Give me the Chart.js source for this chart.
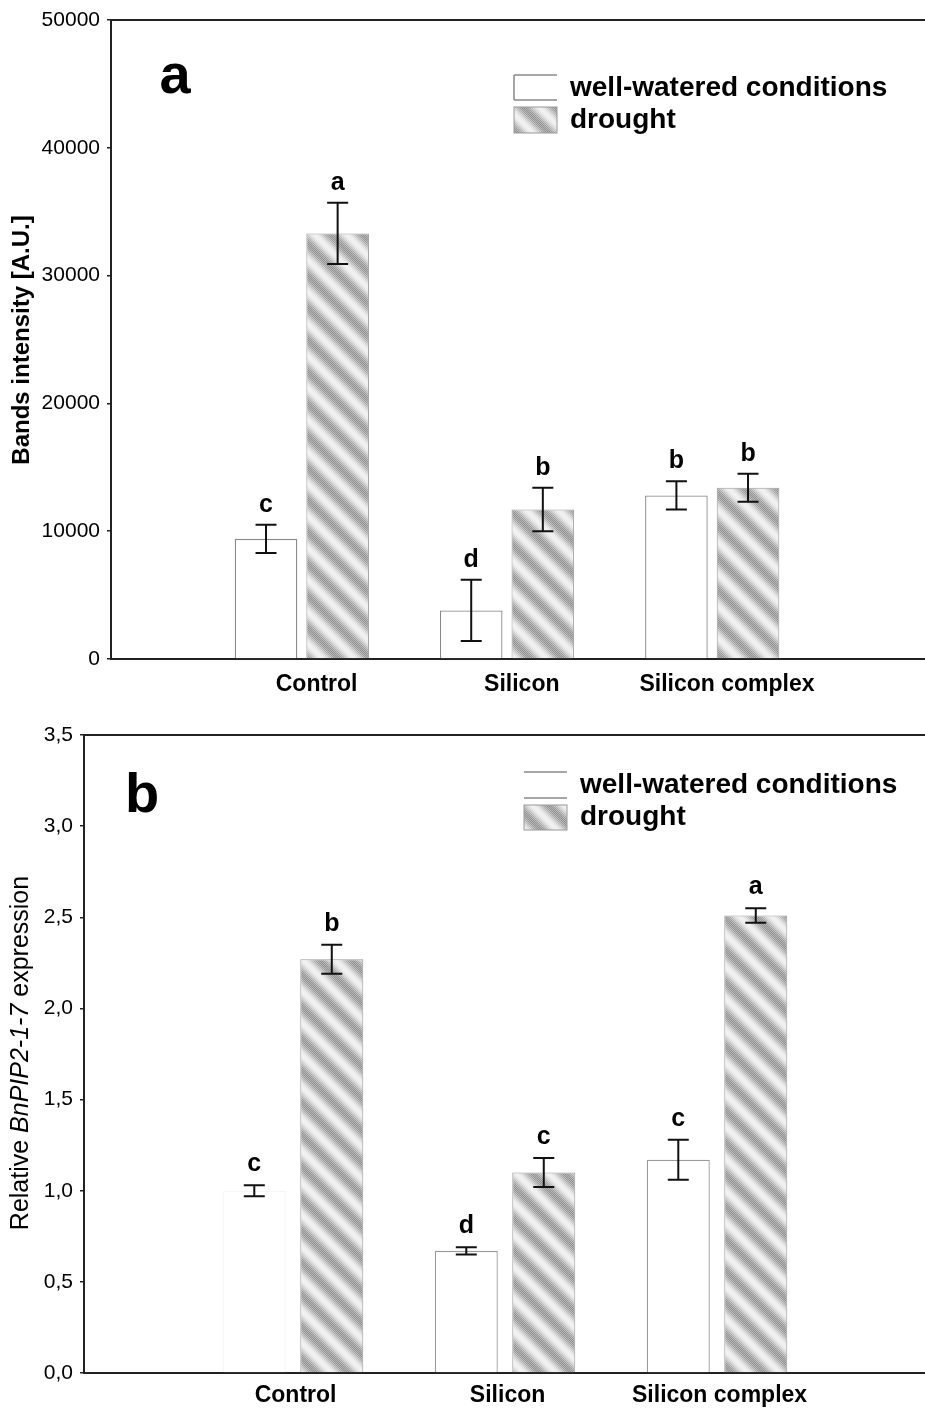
<!DOCTYPE html>
<html>
<head>
<meta charset="utf-8">
<script src="https://cdn.jsdelivr.net/npm/chart.js@4.4.1/dist/chart.umd.min.js"></script>
<style>
  body { margin: 0; background: #fff; }
  canvas { display: block; }
</style>
</head>
<body>
<canvas id="chartA" width="925" height="705"></canvas>
<canvas id="chartB" width="925" height="703"></canvas>
<script>
// categories shared by both panels
const categories = ['Control', 'Silicon', 'Silicon complex'];
const groupPos = [1, 2, 3];

// panel a: bands intensity
const bandsWell = [9400, 3800, 12800];
const bandsWellErr = [1100, 2400, 1100];
const bandsDrought = [33300, 11700, 13400];
const bandsDroughtErr = [2400, 1700, 1100];
const bandsWellLetters = ['c', 'd', 'b'];
const bandsDroughtLetters = ['a', 'b', 'b'];
const bandsTicks = [0, 10000, 20000, 30000, 40000, 50000];

// panel b: relative expression
const exprWell = [1.0, 0.67, 1.17];
const exprWellErr = [0.03, 0.02, 0.11];
const exprDrought = [2.27, 1.10, 2.51];
const exprDroughtErr = [0.08, 0.08, 0.04];
const exprWellLetters = ['c', 'd', 'c'];
const exprDroughtLetters = ['b', 'c', 'a'];
const exprTicks = [0, 0.5, 1.0, 1.5, 2.0, 2.5, 3.0, 3.5];

const legendLabels = ['well-watered conditions', 'drought'];
const FONT = '"Liberation Sans", Arial, sans-serif';

// grey diagonal stripes with a dotted texture, like the printed hatch
function makeHatch(ctx) {
  const n = 32;
  const c = document.createElement('canvas');
  c.width = n; c.height = n;
  const g = c.getContext('2d');
  const img = g.createImageData(n, n);
  for (let y = 0; y < n; y++) {
    for (let x = 0; x < n; x++) {
      const t = ((((x - y) % n) + n) % n) / n;
      const s = 0.5 + 0.5 * Math.cos(2 * Math.PI * t);
      let v = 242 - 80 * s;
      v += ((x + y) % 2 ? 18 : -18) * s;
      const k = (y * n + x) * 4;
      img.data[k] = img.data[k + 1] = img.data[k + 2] = Math.max(0, Math.min(255, v));
      img.data[k + 3] = 255;
    }
  }
  g.putImageData(img, 0, 0);
  return ctx.createPattern(c, 'repeat');
}

function buildPanel(p) {
  const canvas = document.getElementById(p.id);
  const ctx = canvas.getContext('2d');
  const hatch = makeHatch(ctx);

  const extras = {
    id: 'panelExtras',
    afterDatasetsDraw(chart) {
      const c = chart.ctx;
      const yScale = chart.scales.y;
      const sets = [[p.well, p.wellErr, p.wellLetters], [p.drought, p.droughtErr, p.droughtLetters]];
      sets.forEach((s, i) => {
        const meta = chart.getDatasetMeta(i);
        meta.data.forEach((bar, j) => {
          const yTop = yScale.getPixelForValue(s[0][j] + s[1][j]);
          const yBot = yScale.getPixelForValue(s[0][j] - s[1][j]);
          c.save();
          c.strokeStyle = '#111';
          c.lineWidth = 2;
          c.beginPath();
          c.moveTo(bar.x, yTop); c.lineTo(bar.x, yBot);
          c.moveTo(bar.x - 10.5, yTop); c.lineTo(bar.x + 10.5, yTop);
          c.moveTo(bar.x - 10.5, yBot); c.lineTo(bar.x + 10.5, yBot);
          c.stroke();
          c.fillStyle = '#000';
          c.font = 'bold 25px ' + FONT;
          c.textAlign = 'center';
          c.textBaseline = 'alphabetic';
          c.fillText(s[2][j], bar.x, yTop - p.letterGap);
          c.restore();
        });
      });
    },
    afterDraw(chart) {
      const c = chart.ctx;
      const a = chart.chartArea;
      c.save();
      // top frame line
      c.strokeStyle = '#222';
      c.lineWidth = 2;
      c.beginPath();
      c.moveTo(a.left, a.top); c.lineTo(a.right, a.top);
      c.stroke();

      // legend
      const L = p.legend;
      c.fillStyle = '#fff';
      c.fillRect(L.x0, L.y[0][0], L.x1 - L.x0, L.y[0][1] - L.y[0][0]);
      c.strokeStyle = '#8a8a8a';
      c.lineWidth = 1.5;
      c.beginPath();
      c.moveTo(L.x0, L.y[0][0]); c.lineTo(L.x1, L.y[0][0]);
      c.moveTo(L.x0, L.y[0][1]); c.lineTo(L.x1, L.y[0][1]);
      if (L.leftEdge) { c.moveTo(L.x0, L.y[0][0]); c.lineTo(L.x0, L.y[0][1]); }
      c.stroke();
      c.fillStyle = hatch;
      c.fillRect(L.x0, L.y[1][0], L.x1 - L.x0, L.y[1][1] - L.y[1][0]);
      c.strokeStyle = '#999';
      c.lineWidth = 1;
      c.strokeRect(L.x0, L.y[1][0], L.x1 - L.x0, L.y[1][1] - L.y[1][0]);
      c.fillStyle = '#000';
      c.font = 'bold 28px ' + FONT;
      c.textAlign = 'left';
      c.textBaseline = 'middle';
      legendLabels.forEach((t, i) => c.fillText(t, L.tx, L.ty[i]));

      // panel letter
      c.font = 'bold 56px ' + FONT;
      c.textAlign = 'center';
      c.fillText(p.panel, p.panelPos[0], p.panelPos[1]);

      // y axis title
      c.translate(p.titlePos[0], p.titlePos[1]);
      c.rotate(-Math.PI / 2);
      c.textAlign = 'left';
      const fonts = p.title.map(part => (part.it ? 'italic ' : '') + p.titleWeight + ' ' + p.titleSize + 'px ' + FONT);
      let total = 0;
      p.title.forEach((part, i) => { c.font = fonts[i]; total += c.measureText(part.t).width; });
      let x = -total / 2;
      p.title.forEach((part, i) => {
        c.font = fonts[i];
        c.fillText(part.t, x, 0);
        x += c.measureText(part.t).width;
      });
      c.restore();
    }
  };

  return new Chart(ctx, {
    type: 'bar',
    data: {
      datasets: [
        {
          label: legendLabels[0],
          data: groupPos.map((x, i) => ({ x: x, y: p.well[i] })),
          backgroundColor: '#fff',
          borderColor: p.wellBorder,
          borderWidth: 1.3
        },
        {
          label: legendLabels[1],
          data: groupPos.map((x, i) => ({ x: x, y: p.drought[i] })),
          backgroundColor: hatch,
          borderColor: '#9a9a9a',
          borderWidth: 1
        }
      ]
    },
    options: {
      responsive: false,
      animation: false,
      devicePixelRatio: 1,
      categoryPercentage: p.catPct,
      barPercentage: p.barPct,
      layout: { padding: { top: p.padTop, left: 0, right: 0, bottom: 0 } },
      plugins: { legend: { display: false }, tooltip: { enabled: false } },
      scales: {
        x: {
          type: 'linear',
          min: p.xMin,
          max: p.xMax,
          offset: false,
          grid: { display: false, drawTicks: false },
          border: { display: true, color: '#222', width: 2 },
          afterBuildTicks: s => { s.ticks = groupPos.map(v => ({ value: v + p.labelShift })); },
          afterFit: s => { s.height = p.xHeight; },
          ticks: {
            autoSkip: false,
            maxRotation: 0,
            padding: p.xPad,
            color: '#000',
            font: { family: FONT, size: 23, weight: 'bold' },
            callback: (v, i) => categories[i]
          }
        },
        y: {
          min: 0,
          max: p.yTicks[p.yTicks.length - 1],
          grid: { drawOnChartArea: false, tickLength: 4, color: '#222', lineWidth: 1.5 },
          border: { display: true, color: '#222', width: 2 },
          afterBuildTicks: s => { s.ticks = p.yTicks.map(v => ({ value: v })); },
          afterFit: s => { s.width = p.yWidth; },
          ticks: {
            padding: 7,
            color: '#000',
            font: { family: FONT, size: 21 },
            callback: p.tickFmt
          }
        }
      }
    },
    plugins: [extras]
  });
}

buildPanel({
  id: 'chartA',
  well: bandsWell, wellErr: bandsWellErr, wellLetters: bandsWellLetters,
  drought: bandsDrought, droughtErr: bandsDroughtErr, droughtLetters: bandsDroughtLetters,
  yTicks: bandsTicks,
  tickFmt: v => String(v),
  wellBorder: '#8a8a8a',
  xMin: 0.07, xMax: 4.037, labelShift: 0.072,
  catPct: 0.698, barPct: 0.874,
  padTop: 20, xHeight: 46, xPad: 12, yWidth: 111,
  letterGap: 13,
  legend: { x0: 514, x1: 557, y: [[75, 100], [107, 133]], leftEdge: true, tx: 570, ty: [88, 120] },
  panel: 'a', panelPos: [175, 78],
  title: [{ t: 'Bands intensity [A.U.]', it: false }],
  titleWeight: 'bold', titleSize: 24, titlePos: [22, 340]
});

buildPanel({
  id: 'chartB',
  well: exprWell, wellErr: exprWellErr, wellLetters: exprWellLetters,
  drought: exprDrought, droughtErr: exprDroughtErr, droughtLetters: exprDroughtLetters,
  yTicks: exprTicks,
  tickFmt: v => v.toFixed(1).replace('.', ','),
  wellBorder: ['#f6f6f6', '#9a9a9a', '#9a9a9a'],
  xMin: 0.014, xMax: 3.981, labelShift: 0.012,
  catPct: 0.731, barPct: 0.813,
  padTop: 30, xHeight: 35, xPad: 9, yWidth: 84,
  letterGap: 14,
  legend: { x0: 524, x1: 567, y: [[67, 93], [100, 125]], leftEdge: false, tx: 580, ty: [80, 112] },
  panel: 'b', panelPos: [142, 92],
  title: [{ t: 'Relative ', it: false }, { t: 'BnPIP2-1-7', it: true }, { t: ' expression', it: false }],
  titleWeight: 'normal', titleSize: 25, titlePos: [21, 348]
});
</script>
</body>
</html>
